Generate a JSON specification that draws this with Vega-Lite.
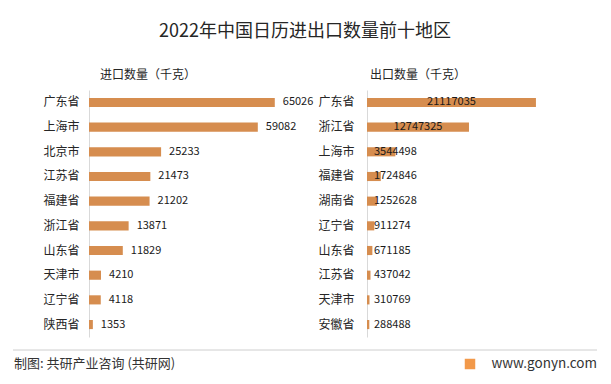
{
  "$schema": "https://vega.github.io/schema/vega-lite/v6.json",
  "background": "white",
  "padding": {"left": 12, "top": 23, "right": 5, "bottom": 5},
  "config": {
    "font": "Noto Sans CJK SC",
    "view": {"stroke": null},
    "axis": {"labelFont": "Noto Sans CJK SC", "titleFont": "Noto Sans CJK SC"},
    "title": {"font": "Noto Sans CJK SC"}
  },
  "title": {
    "text": "2022年中国日历进出口数量前十地区",
    "fontSize": 18,
    "fontWeight": "normal",
    "color": "#262626",
    "anchor": "middle",
    "offset": 28
  },
  "datasets": {
    "imports": [
      {"region": "广东省", "value": 65026},
      {"region": "上海市", "value": 59082},
      {"region": "北京市", "value": 25233},
      {"region": "江苏省", "value": 21473},
      {"region": "福建省", "value": 21202},
      {"region": "浙江省", "value": 13871},
      {"region": "山东省", "value": 11829},
      {"region": "天津市", "value": 4210},
      {"region": "辽宁省", "value": 4118},
      {"region": "陕西省", "value": 1353}
    ],
    "exports": [
      {"region": "广东省", "value": 21117035},
      {"region": "浙江省", "value": 12747325},
      {"region": "上海市", "value": 3544498},
      {"region": "福建省", "value": 1724846},
      {"region": "湖南省", "value": 1252628},
      {"region": "辽宁省", "value": 911274},
      {"region": "山东省", "value": 671185},
      {"region": "江苏省", "value": 437042},
      {"region": "天津市", "value": 310769},
      {"region": "安徽省", "value": 288488}
    ],
    "footer": [
      {"pos": 0, "label": "制图: 共研产业咨询 (共研网)", "side": "left"},
      {"pos": 1, "label": "www.gonyn.com", "side": "right"}
    ]
  },
  "vconcat": [
    {
      "bounds": "flush",
      "spacing": 78,
      "hconcat": [
        {
          "width": 200,
          "height": 247,
          "data": {"name": "imports"},
          "title": {"text": "进口数量（千克）", "anchor": "start", "frame": "group", "fontSize": 12, "fontWeight": "normal", "color": "#262626", "dx": 11, "offset": 8},
          "encoding": {
            "y": {
              "field": "region", "type": "nominal",
              "sort": ["广东省", "上海市", "北京市", "江苏省", "福建省", "浙江省", "山东省", "天津市", "辽宁省", "陕西省"],
              "scale": {"paddingInner": 0.63, "paddingOuter": 0.32},
              "axis": {"title": null, "ticks": false, "domainColor": "#d9d9d9", "domainWidth": 1, "labelFontSize": 12, "labelColor": "#262626", "labelPadding": 10}
            },
            "x": {
              "field": "value", "type": "quantitative",
              "scale": {"domain": [0, 70000], "nice": false},
              "axis": null
            }
          },
          "layer": [
            {"mark": {"type": "bar", "color": "#D68D4F"}},
            {
              "mark": {"type": "text", "align": "left", "baseline": "middle", "dx": 8, "fontSize": 11, "color": "#1a1a1a"},
              "encoding": {"text": {"field": "value", "type": "quantitative", "format": "d"}}
            }
          ]
        },
        {
          "width": 200,
          "height": 247,
          "data": {"name": "exports"},
          "title": {"text": "出口数量（千克）", "anchor": "start", "frame": "group", "fontSize": 12, "fontWeight": "normal", "color": "#262626", "dx": 3, "offset": 8},
          "encoding": {
            "y": {
              "field": "region", "type": "nominal",
              "sort": ["广东省", "浙江省", "上海市", "福建省", "湖南省", "辽宁省", "山东省", "江苏省", "天津市", "安徽省"],
              "scale": {"paddingInner": 0.63, "paddingOuter": 0.32},
              "axis": {"title": null, "ticks": false, "domainColor": "#d9d9d9", "domainWidth": 1, "labelFontSize": 12, "labelColor": "#262626", "labelPadding": 13}
            }
          },
          "layer": [
            {
              "mark": {"type": "bar", "color": "#D68D4F"},
              "encoding": {
                "x": {
                  "field": "value", "type": "quantitative",
                  "scale": {"domain": [0, 25000000], "nice": false},
                  "axis": null
                }
              }
            },
            {
              "transform": [
                {"filter": "datum.value > 5000000"},
                {"calculate": "datum.value / 2", "as": "mid"}
              ],
              "mark": {"type": "text", "align": "center", "baseline": "middle", "fontSize": 11, "color": "#1a1a1a"},
              "encoding": {
                "x": {"field": "mid", "type": "quantitative", "scale": {"domain": [0, 25000000], "nice": false}, "axis": null},
                "text": {"field": "value", "type": "quantitative", "format": "d"}
              }
            },
            {
              "transform": [{"filter": "datum.value <= 5000000"}],
              "mark": {"type": "text", "align": "left", "baseline": "middle", "dx": 7, "fontSize": 11, "color": "#1a1a1a"},
              "encoding": {
                "x": {"datum": 0, "type": "quantitative", "scale": {"domain": [0, 25000000], "nice": false}, "axis": null},
                "text": {"field": "value", "type": "quantitative", "format": "d"}
              }
            }
          ]
        }
      ]
    },
    {
      "width": 508,
      "height": 28,
      "data": {"name": "footer"},
      "layer": [
        {
          "mark": {"type": "rule", "color": "#dedede", "strokeWidth": 1, "xOffset": -76},
          "encoding": {
            "x": {"datum": 0, "type": "quantitative", "scale": {"domain": [0, 1], "nice": false}, "axis": null},
            "x2": {"datum": 1},
            "y": {"value": 0}
          }
        },
        {
          "transform": [{"filter": "datum.side == 'left'"}],
          "mark": {"type": "text", "align": "left", "baseline": "middle", "dx": -75, "fontSize": 13, "color": "#333333"},
          "encoding": {
            "x": {"field": "pos", "type": "quantitative"},
            "text": {"field": "label", "type": "nominal"}
          }
        },
        {
          "transform": [{"filter": "datum.side == 'right'"}],
          "mark": {"type": "text", "align": "right", "baseline": "middle", "fontSize": 13.5, "color": "#333333"},
          "encoding": {
            "x": {"field": "pos", "type": "quantitative"},
            "text": {"field": "label", "type": "nominal"}
          }
        },
        {
          "transform": [{"filter": "datum.side == 'right'"}],
          "mark": {"type": "square", "filled": true, "size": 110, "color": "#F2994A", "opacity": 1, "xOffset": -127},
          "encoding": {
            "x": {"field": "pos", "type": "quantitative"}
          }
        }
      ]
    }
  ],
  "spacing": 12
}
